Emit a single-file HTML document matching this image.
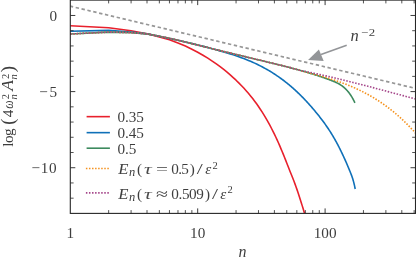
<!DOCTYPE html>
<html><head><meta charset="utf-8"><title>chart</title>
<style>html,body{margin:0;padding:0;background:#fff}svg{display:block}.t{filter:grayscale(1)}.t text{font-family:"Liberation Serif",serif}</style></head>
<body>
<svg width="416" height="259" viewBox="0 0 416 259">
<rect width="416" height="259" fill="#fff"/>
<g fill="none" stroke-linejoin="round">
<path d="M70.30,25.80 L108.65,27.80 L131.09,30.80 L147.00,33.80 L159.35,36.90 L169.44,39.83 L177.97,42.96 L185.35,46.08 L191.87,49.17 L197.70,52.21 L202.97,55.21 L207.79,58.16 L212.22,61.06 L216.32,63.91 L220.13,66.71 L223.70,69.47 L227.06,72.19 L230.22,74.88 L233.21,77.55 L236.05,80.20 L238.75,82.84 L241.32,85.46 L243.78,88.07 L246.14,90.68 L248.40,93.29 L250.57,95.90 L252.66,98.53 L254.67,101.17 L256.61,103.83 L258.49,106.50 L260.30,109.19 L262.06,111.89 L263.76,114.62 L265.41,117.36 L267.01,120.12 L268.57,122.90 L270.09,125.69 L271.56,128.50 L273.00,131.32 L274.40,134.16 L275.77,137.02 L277.10,139.89 L278.40,142.77 L279.68,145.66 L280.92,148.57 L282.14,151.48 L283.33,154.40 L284.49,157.29 L285.63,160.16 L286.75,162.99 L287.84,165.78 L288.92,168.51 L289.97,171.18 L291.01,173.78 L292.02,176.31 L293.02,178.82 L294.00,181.33 L294.96,183.88 L295.91,186.48 L296.84,189.12 L297.75,191.80 L298.65,194.50 L299.54,197.22 L300.41,199.94 L301.27,202.66 L302.11,205.37 L302.94,208.07 L303.76,210.75 L304.50,213.18" stroke="#e8202c" stroke-width="1.6"/>
<path d="M70.30,31.20 L108.65,30.40 L131.09,32.10 L147.00,33.90 L159.35,36.30 L169.44,38.48 L177.97,40.32 L185.35,42.01 L191.87,43.56 L197.70,45.01 L202.97,46.34 L207.79,47.59 L212.22,48.75 L216.32,49.85 L220.13,50.90 L223.70,51.92 L227.06,52.91 L230.22,53.88 L233.21,54.83 L236.05,55.77 L238.75,56.71 L241.32,57.64 L243.78,58.56 L246.14,59.48 L248.40,60.39 L250.57,61.31 L252.66,62.22 L254.67,63.13 L256.61,64.04 L258.49,64.95 L260.30,65.86 L262.06,66.77 L263.76,67.67 L265.41,68.58 L267.01,69.48 L268.57,70.39 L270.09,71.29 L271.56,72.19 L273.00,73.09 L274.40,73.99 L275.77,74.89 L277.10,75.79 L278.40,76.69 L279.68,77.58 L280.92,78.48 L282.14,79.37 L283.33,80.26 L284.49,81.15 L285.63,82.04 L286.75,82.93 L287.84,83.81 L288.92,84.70 L289.97,85.58 L291.01,86.46 L292.02,87.34 L293.02,88.21 L294.00,89.09 L294.96,89.96 L295.91,90.83 L296.84,91.69 L297.75,92.56 L298.65,93.42 L299.54,94.28 L300.41,95.13 L301.27,95.99 L302.11,96.84 L302.94,97.68 L303.76,98.53 L304.57,99.37 L305.37,100.21 L306.15,101.04 L306.92,101.88 L307.69,102.71 L308.44,103.53 L309.18,104.36 L309.92,105.18 L310.64,106.00 L311.35,106.81 L312.06,107.62 L312.75,108.43 L313.44,109.24 L314.12,110.04 L314.79,110.84 L315.45,111.64 L316.11,112.43 L316.76,113.22 L317.39,114.01 L318.03,114.80 L318.65,115.58 L319.27,116.36 L319.88,117.14 L320.49,117.92 L321.08,118.69 L321.68,119.47 L322.26,120.24 L322.84,121.01 L323.41,121.79 L323.98,122.56 L324.54,123.34 L325.10,124.11 L325.65,124.89 L326.20,125.66 L326.74,126.44 L327.27,127.22 L327.80,128.01 L328.32,128.79 L328.84,129.57 L329.36,130.36 L329.87,131.15 L330.37,131.94 L330.87,132.74 L331.37,133.54 L331.86,134.34 L332.35,135.14 L332.83,135.94 L333.31,136.75 L333.79,137.56 L334.26,138.37 L334.72,139.19 L335.19,140.01 L335.65,140.83 L336.10,141.66 L336.55,142.49 L337.00,143.32 L337.45,144.15 L337.89,144.99 L338.32,145.82 L338.76,146.66 L339.19,147.50 L339.62,148.35 L340.04,149.19 L340.46,150.04 L340.88,150.89 L341.29,151.74 L341.70,152.59 L342.11,153.44 L342.52,154.30 L342.92,155.15 L343.32,156.01 L343.72,156.87 L344.11,157.73 L344.50,158.59 L344.89,159.45 L345.28,160.31 L345.66,161.17 L346.04,162.04 L346.42,162.90 L346.79,163.76 L347.16,164.63 L347.53,165.49 L347.90,166.36 L348.27,167.23 L348.63,168.09 L348.99,168.96 L349.35,169.83 L349.70,170.69 L350.06,171.56 L350.41,172.43 L350.76,173.30 L351.10,174.19 L351.45,175.10 L351.79,176.03 L352.13,177.01 L352.47,178.03 L352.81,179.09 L353.14,180.22 L353.47,181.41 L353.80,182.66 L354.13,183.99 L354.46,185.41 L354.78,186.91 L355.11,188.50 L355.20,188.98" stroke="#0f70b8" stroke-width="1.6"/>
<path d="M70.30,34.00 L108.65,32.10 L131.09,32.60 L147.00,33.90 L159.35,36.20 L169.44,38.30 L177.97,40.24 L185.35,42.02 L191.87,43.63 L197.70,45.08 L202.97,46.39 L207.79,47.58 L212.22,48.67 L216.32,49.67 L220.13,50.60 L223.70,51.47 L227.06,52.28 L230.22,53.05 L233.21,53.77 L236.05,54.45 L238.75,55.10 L241.32,55.73 L243.78,56.32 L246.14,56.89 L248.40,57.43 L250.57,57.95 L252.66,58.46 L254.67,58.94 L256.61,59.41 L258.49,59.86 L260.30,60.30 L262.06,60.72 L263.76,61.14 L265.41,61.54 L267.01,61.92 L268.57,62.30 L270.09,62.67 L271.56,63.03 L273.00,63.38 L274.40,63.72 L275.77,64.05 L277.10,64.38 L278.40,64.70 L279.68,65.01 L280.92,65.32 L282.14,65.62 L283.33,65.92 L284.49,66.21 L285.63,66.50 L286.75,66.79 L287.84,67.07 L288.92,67.34 L289.97,67.61 L291.01,67.88 L292.02,68.15 L293.02,68.41 L294.00,68.67 L294.96,68.93 L295.91,69.18 L296.84,69.43 L297.75,69.68 L298.65,69.93 L299.54,70.17 L300.41,70.41 L301.27,70.65 L302.11,70.89 L302.94,71.13 L303.76,71.36 L304.57,71.60 L305.37,71.83 L306.15,72.06 L306.92,72.28 L307.69,72.51 L308.44,72.73 L309.18,72.96 L309.92,73.18 L310.64,73.40 L311.35,73.62 L312.06,73.84 L312.75,74.05 L313.44,74.27 L314.12,74.48 L314.79,74.70 L315.45,74.91 L316.11,75.12 L316.76,75.33 L317.39,75.54 L318.03,75.75 L318.65,75.95 L319.27,76.16 L319.88,76.37 L320.49,76.57 L321.08,76.77 L321.68,76.98 L322.26,77.18 L322.84,77.38 L323.41,77.58 L323.98,77.78 L324.54,77.98 L325.10,78.18 L325.65,78.37 L326.20,78.57 L326.74,78.77 L327.27,78.96 L327.80,79.16 L328.32,79.35 L328.84,79.54 L329.36,79.73 L329.87,79.93 L330.37,80.12 L330.87,80.31 L331.37,80.50 L331.86,80.69 L332.35,80.88 L332.83,81.07 L333.31,81.26 L333.79,81.45 L334.26,81.64 L334.72,81.84 L335.19,82.04 L335.65,82.24 L336.10,82.45 L336.55,82.66 L337.00,82.88 L337.45,83.10 L337.89,83.32 L338.32,83.56 L338.76,83.79 L339.19,84.04 L339.62,84.29 L340.04,84.55 L340.46,84.81 L340.88,85.08 L341.29,85.36 L341.70,85.65 L342.11,85.95 L342.52,86.25 L342.92,86.56 L343.32,86.88 L343.72,87.21 L344.11,87.55 L344.50,87.90 L344.89,88.25 L345.28,88.62 L345.66,88.99 L346.04,89.37 L346.42,89.76 L346.79,90.17 L347.16,90.58 L347.53,91.00 L347.90,91.43 L348.27,91.87 L348.63,92.32 L348.99,92.78 L349.35,93.25 L349.70,93.73 L350.06,94.22 L350.41,94.73 L350.76,95.24 L351.10,95.77 L351.45,96.32 L351.79,96.87 L352.13,97.44 L352.47,98.03 L352.81,98.63 L353.14,99.25 L353.47,99.89 L353.80,100.54 L354.13,101.20 L354.46,101.89 L354.78,102.59 L354.90,102.85" stroke="#3d8a5e" stroke-width="1.6"/>
<path d="M70.30,34.00 L108.65,32.10 L131.09,32.60 L147.00,33.90 L159.35,36.20 L169.44,38.30 L177.97,40.24 L185.35,42.02 L191.87,43.63 L197.70,45.08 L202.97,46.39 L207.79,47.58 L212.22,48.67 L216.32,49.67 L220.13,50.60 L223.70,51.47 L227.06,52.28 L230.22,53.05 L233.21,53.77 L236.05,54.45 L238.75,55.10 L241.32,55.73 L243.78,56.32 L246.14,56.89 L248.40,57.43 L250.57,57.95 L252.66,58.46 L254.67,58.94 L256.61,59.41 L258.49,59.86 L260.30,60.30 L262.06,60.72 L263.76,61.14 L265.41,61.54 L267.01,61.92 L268.57,62.30 L270.09,62.67 L271.56,63.03 L273.00,63.38 L274.40,63.72 L275.77,64.05 L277.10,64.38 L278.40,64.70 L279.68,65.01 L280.92,65.32 L282.14,65.62 L283.33,65.92 L284.49,66.21 L285.63,66.50 L286.75,66.79 L287.84,67.07 L288.92,67.34 L289.97,67.61 L291.01,67.88 L292.02,68.15 L293.02,68.41 L294.00,68.67 L294.96,68.93 L295.91,69.18 L296.84,69.43 L297.75,69.68 L298.65,69.93 L299.54,70.17 L300.00,70.30 L301.00,70.82 L302.00,71.07 L303.00,71.33 L304.00,71.59 L305.00,71.85 L306.00,72.10 L307.00,72.36 L308.00,72.62 L309.00,72.88 L310.00,73.15 L311.00,73.41 L312.00,73.67 L313.00,73.94 L314.00,74.20 L315.00,74.47 L316.00,74.74 L317.00,75.01 L318.00,75.29 L319.00,75.56 L320.00,75.84 L321.00,76.12 L322.00,76.41 L323.00,76.69 L324.00,76.98 L325.00,77.27 L326.00,77.57 L327.00,77.87 L328.00,78.17 L329.00,78.47 L330.00,78.78 L331.00,79.09 L332.00,79.41 L333.00,79.73 L334.00,80.05 L335.00,80.38 L336.00,80.72 L337.00,81.05 L338.00,81.40 L339.00,81.74 L340.00,82.10 L341.00,82.45 L342.00,82.82 L343.00,83.19 L344.00,83.56 L345.00,83.94 L346.00,84.32 L347.00,84.72 L348.00,85.11 L349.00,85.52 L350.00,85.93 L351.00,86.34 L352.00,86.76 L353.00,87.19 L354.00,87.63 L355.00,88.07 L356.00,88.52 L357.00,88.98 L358.00,89.45 L359.00,89.92 L360.00,90.40 L361.00,90.89 L362.00,91.38 L363.00,91.89 L364.00,92.40 L365.00,92.92 L366.00,93.45 L367.00,93.98 L368.00,94.53 L369.00,95.09 L370.00,95.65 L371.00,96.22 L372.00,96.81 L373.00,97.40 L374.00,98.00 L375.00,98.61 L376.00,99.23 L377.00,99.86 L378.00,100.50 L379.00,101.15 L380.00,101.82 L381.00,102.49 L382.00,103.17 L383.00,103.86 L384.00,104.57 L385.00,105.28 L386.00,106.01 L387.00,106.75 L388.00,107.50 L389.00,108.26 L390.00,109.03 L391.00,109.81 L392.00,110.61 L393.00,111.42 L394.00,112.24 L395.00,113.07 L396.00,113.91 L397.00,114.77 L398.00,115.64 L399.00,116.53 L400.00,117.42 L401.00,118.33 L402.00,119.25 L403.00,120.19 L404.00,121.14 L405.00,122.10 L406.00,123.08 L407.00,124.07 L408.00,125.08 L409.00,126.10 L410.00,127.13 L411.00,128.18 L412.00,129.24 L413.00,130.32 L414.00,131.41 L415.00,132.52 L415.40,132.97" stroke="#f5921e" stroke-width="1.6" stroke-dasharray="1.5 1.56"/>
<path d="M70.30,34.00 L108.65,32.10 L131.09,32.60 L147.00,33.90 L159.35,36.20 L169.44,38.30 L177.97,40.24 L185.35,42.02 L191.87,43.63 L197.70,45.08 L202.97,46.39 L207.79,47.58 L212.22,48.67 L216.32,49.67 L220.13,50.60 L223.70,51.47 L227.06,52.28 L230.22,53.05 L233.21,53.77 L236.05,54.45 L238.75,55.10 L241.32,55.73 L243.78,56.32 L246.14,56.89 L248.40,57.43 L250.57,57.95 L252.66,58.46 L254.67,58.94 L256.61,59.41 L258.49,59.86 L260.30,60.30 L262.06,60.72 L263.76,61.14 L265.41,61.54 L267.01,61.92 L268.57,62.30 L270.09,62.67 L271.56,63.03 L273.00,63.38 L274.40,63.72 L275.77,64.05 L277.10,64.38 L278.40,64.70 L279.68,65.01 L280.92,65.32 L282.14,65.62 L283.33,65.92 L284.49,66.21 L285.63,66.50 L286.75,66.79 L287.84,67.07 L288.92,67.34 L289.97,67.61 L291.01,67.88 L292.02,68.15 L293.02,68.41 L294.00,68.67 L294.96,68.93 L295.91,69.18 L296.84,69.43 L297.75,69.68 L298.65,69.93 L299.54,70.17 L300.00,70.30 L301.00,70.54 L302.00,70.73 L303.00,70.93 L304.00,71.14 L305.00,71.34 L306.00,71.54 L307.00,71.75 L308.00,71.96 L309.00,72.17 L310.00,72.38 L311.00,72.59 L312.00,72.80 L313.00,73.01 L314.00,73.23 L315.00,73.45 L316.00,73.66 L317.00,73.88 L318.00,74.10 L319.00,74.32 L320.00,74.55 L321.00,74.77 L322.00,74.99 L323.00,75.22 L324.00,75.45 L325.00,75.67 L326.00,75.90 L327.00,76.13 L328.00,76.36 L329.00,76.60 L330.00,76.83 L331.00,77.06 L332.00,77.30 L333.00,77.54 L334.00,77.77 L335.00,78.01 L336.00,78.25 L337.00,78.49 L338.00,78.73 L339.00,78.97 L340.00,79.21 L341.00,79.46 L342.00,79.70 L343.00,79.95 L344.00,80.19 L345.00,80.44 L346.00,80.69 L347.00,80.94 L348.00,81.19 L349.00,81.44 L350.00,81.69 L351.00,81.94 L352.00,82.19 L353.00,82.44 L354.00,82.70 L355.00,82.95 L356.00,83.21 L357.00,83.46 L358.00,83.72 L359.00,83.97 L360.00,84.23 L361.00,84.49 L362.00,84.75 L363.00,85.01 L364.00,85.26 L365.00,85.52 L366.00,85.78 L367.00,86.05 L368.00,86.31 L369.00,86.57 L370.00,86.83 L371.00,87.09 L372.00,87.36 L373.00,87.62 L374.00,87.88 L375.00,88.15 L376.00,88.41 L377.00,88.68 L378.00,88.94 L379.00,89.21 L380.00,89.47 L381.00,89.74 L382.00,90.01 L383.00,90.27 L384.00,90.54 L385.00,90.81 L386.00,91.07 L387.00,91.34 L388.00,91.61 L389.00,91.88 L390.00,92.14 L391.00,92.41 L392.00,92.68 L393.00,92.95 L394.00,93.22 L395.00,93.49 L396.00,93.75 L397.00,94.02 L398.00,94.29 L399.00,94.56 L400.00,94.83 L401.00,95.10 L402.00,95.37 L403.00,95.63 L404.00,95.90 L405.00,96.17 L406.00,96.44 L407.00,96.71 L408.00,96.98 L409.00,97.24 L410.00,97.51 L411.00,97.78 L412.00,98.05 L413.00,98.31 L414.00,98.58 L415.00,98.85 L415.50,98.98" stroke="#a5468a" stroke-width="1.6" stroke-dasharray="1.5 1.56"/>
<path d="M70.3,6.2 L416,88.5" stroke="#979797" stroke-width="1.7" stroke-dasharray="3.4 2.62" stroke-dashoffset="0.5"/>
</g>
<g stroke="#262626" fill="none">
<rect x="70.3" y="0.1" width="345.2" height="213.3" stroke-width="1.1"/>
<path d="M70.3,15.47h5.0 M415.5,15.47h-5.0" stroke-width="0.9"/>
<path d="M70.3,30.70h3.3 M415.5,30.70h-3.3" stroke-width="0.8"/>
<path d="M70.3,45.93h3.3 M415.5,45.93h-3.3" stroke-width="0.8"/>
<path d="M70.3,61.15h3.3 M415.5,61.15h-3.3" stroke-width="0.8"/>
<path d="M70.3,76.38h3.3 M415.5,76.38h-3.3" stroke-width="0.8"/>
<path d="M70.3,91.60h5.0 M415.5,91.60h-5.0" stroke-width="0.9"/>
<path d="M70.3,106.83h3.3 M415.5,106.83h-3.3" stroke-width="0.8"/>
<path d="M70.3,122.05h3.3 M415.5,122.05h-3.3" stroke-width="0.8"/>
<path d="M70.3,137.28h3.3 M415.5,137.28h-3.3" stroke-width="0.8"/>
<path d="M70.3,152.50h3.3 M415.5,152.50h-3.3" stroke-width="0.8"/>
<path d="M70.3,167.72h5.0 M415.5,167.72h-5.0" stroke-width="0.9"/>
<path d="M70.3,182.95h3.3 M415.5,182.95h-3.3" stroke-width="0.8"/>
<path d="M70.3,198.18h3.3 M415.5,198.18h-3.3" stroke-width="0.8"/>
<path d="M108.65,213.4v-3.3 M108.65,0.1v3.3" stroke-width="0.8"/>
<path d="M131.09,213.4v-3.3 M131.09,0.1v3.3" stroke-width="0.8"/>
<path d="M147.00,213.4v-3.3 M147.00,0.1v3.3" stroke-width="0.8"/>
<path d="M159.35,213.4v-3.3 M159.35,0.1v3.3" stroke-width="0.8"/>
<path d="M169.44,213.4v-3.3 M169.44,0.1v3.3" stroke-width="0.8"/>
<path d="M177.97,213.4v-3.3 M177.97,0.1v3.3" stroke-width="0.8"/>
<path d="M185.35,213.4v-3.3 M185.35,0.1v3.3" stroke-width="0.8"/>
<path d="M191.87,213.4v-3.3 M191.87,0.1v3.3" stroke-width="0.8"/>
<path d="M197.70,213.4v-5.0 M197.70,0.1v5.0" stroke-width="0.9"/>
<path d="M236.05,213.4v-3.3 M236.05,0.1v3.3" stroke-width="0.8"/>
<path d="M258.49,213.4v-3.3 M258.49,0.1v3.3" stroke-width="0.8"/>
<path d="M274.40,213.4v-3.3 M274.40,0.1v3.3" stroke-width="0.8"/>
<path d="M286.75,213.4v-3.3 M286.75,0.1v3.3" stroke-width="0.8"/>
<path d="M296.84,213.4v-3.3 M296.84,0.1v3.3" stroke-width="0.8"/>
<path d="M305.37,213.4v-3.3 M305.37,0.1v3.3" stroke-width="0.8"/>
<path d="M312.75,213.4v-3.3 M312.75,0.1v3.3" stroke-width="0.8"/>
<path d="M319.27,213.4v-3.3 M319.27,0.1v3.3" stroke-width="0.8"/>
<path d="M325.10,213.4v-5.0 M325.10,0.1v5.0" stroke-width="0.9"/>
<path d="M363.45,213.4v-3.3 M363.45,0.1v3.3" stroke-width="0.8"/>
<path d="M385.89,213.4v-3.3 M385.89,0.1v3.3" stroke-width="0.8"/>
<path d="M401.80,213.4v-3.3 M401.80,0.1v3.3" stroke-width="0.8"/>
<path d="M414.15,213.4v-3.3 M414.15,0.1v3.3" stroke-width="0.8"/>
</g>
<g class="t" font-size="15.2" fill="#3e3e3e">
<text x="57.2" y="21.0" text-anchor="end">0</text>
<text x="57.2" y="97.1" text-anchor="end" textLength="18" lengthAdjust="spacing">−5</text>
<text x="56.6" y="173.0" text-anchor="end" textLength="25" lengthAdjust="spacing">−10</text>
<text x="70.3" y="237.8" text-anchor="middle">1</text>
<text x="197.7" y="237.8" text-anchor="middle">10</text>
<text x="325.1" y="237.8" text-anchor="middle">100</text>
<text x="242.6" y="257.3" text-anchor="middle" font-style="italic" font-size="16">n</text>
<text x="117.6" y="122.1" textLength="26.3" lengthAdjust="spacing">0.35</text>
<text x="117.6" y="137.9" textLength="26.3" lengthAdjust="spacing">0.45</text>
<text x="117.6" y="153.6" textLength="18.8" lengthAdjust="spacing">0.5</text>
<text x="118.2" y="173.9" font-style="italic" textLength="10.2" lengthAdjust="spacingAndGlyphs">E</text>
<text x="128.9" y="176.4" font-style="italic" font-size="12.5">n</text>
<text x="137.0" y="173.9">(</text>
<text x="143.9" y="173.9" font-style="italic" fill="#4c4c4c" textLength="7.7" lengthAdjust="spacingAndGlyphs">τ</text>
<text x="155.9" y="173.9" textLength="12" lengthAdjust="spacingAndGlyphs">=</text>
<text x="171.3" y="173.9" textLength="17.5" lengthAdjust="spacing">0.5</text>
<text x="189.8" y="173.9">)</text>
<text x="196.8" y="173.9" textLength="6" lengthAdjust="spacingAndGlyphs">/</text>
<text x="205.2" y="173.9" font-style="italic">ε</text>
<text x="212.4" y="168.5" font-size="10.5">2</text>
<text x="118.2" y="198.5" font-style="italic" textLength="10.2" lengthAdjust="spacingAndGlyphs">E</text>
<text x="128.9" y="201.0" font-style="italic" font-size="12.5">n</text>
<text x="137.0" y="198.5">(</text>
<text x="143.9" y="198.5" font-style="italic" fill="#4c4c4c" textLength="7.7" lengthAdjust="spacingAndGlyphs">τ</text>
<text x="155.9" y="198.5" textLength="12" lengthAdjust="spacingAndGlyphs">≈</text>
<text x="171.3" y="198.5" textLength="32.6" lengthAdjust="spacing">0.509</text>
<text x="204.9" y="198.5">)</text>
<text x="211.9" y="198.5" textLength="6" lengthAdjust="spacingAndGlyphs">/</text>
<text x="220.3" y="198.5" font-style="italic">ε</text>
<text x="227.5" y="193.1" font-size="10.5">2</text>
<text x="350.6" y="41.4" font-style="italic" font-size="16.5">n</text>
<text x="361.6" y="36.4" font-size="10.5" textLength="13.6" lengthAdjust="spacingAndGlyphs">−2</text>
<g transform="translate(13.0,146.8) rotate(-90)">
<text x="0" y="0" textLength="18.4" lengthAdjust="spacing">log</text>
<text x="22" y="1.2" font-size="19" textLength="6.2" lengthAdjust="spacingAndGlyphs">(</text>
<text x="29.6" y="0">4</text>
<text x="38.0" y="0" font-style="italic" font-size="15.5" textLength="8.4" lengthAdjust="spacingAndGlyphs">ω</text>
<text x="47.6" y="-4.4" font-size="10.5">2</text>
<text x="47.2" y="3.6" font-size="10.5" font-style="italic">n</text>
<text x="56.0" y="0" font-style="italic" font-size="16.5" textLength="10.9" lengthAdjust="spacingAndGlyphs">A</text>
<text x="67.8" y="-4.4" font-size="10.5">2</text>
<text x="67.2" y="3.6" font-size="10.5" font-style="italic">n</text>
<text x="74.6" y="1.2" font-size="19" textLength="6.2" lengthAdjust="spacingAndGlyphs">)</text>
</g>
</g>
<g fill="none">
<path d="M86.6,116.65H109.9" stroke="#e8202c" stroke-width="1.6"/>
<path d="M86.6,132.65H109.9" stroke="#0f70b8" stroke-width="1.6"/>
<path d="M86.6,148.2H109.9" stroke="#3d8a5e" stroke-width="1.6"/>
<path d="M85.9,168.55H109.9" stroke="#f5921e" stroke-width="1.6" stroke-dasharray="1.5 1.56"/>
<path d="M85.9,192.9H109.9" stroke="#a5468a" stroke-width="1.6" stroke-dasharray="1.5 1.56"/>
</g>
<path d="M346.7,45.2L321,54.6" stroke="#939598" stroke-width="1.6" fill="none"/>
<path d="M308.1,60.1L318.9,49.5L323.7,61Z" fill="#939598"/>
</svg>
</body></html>
